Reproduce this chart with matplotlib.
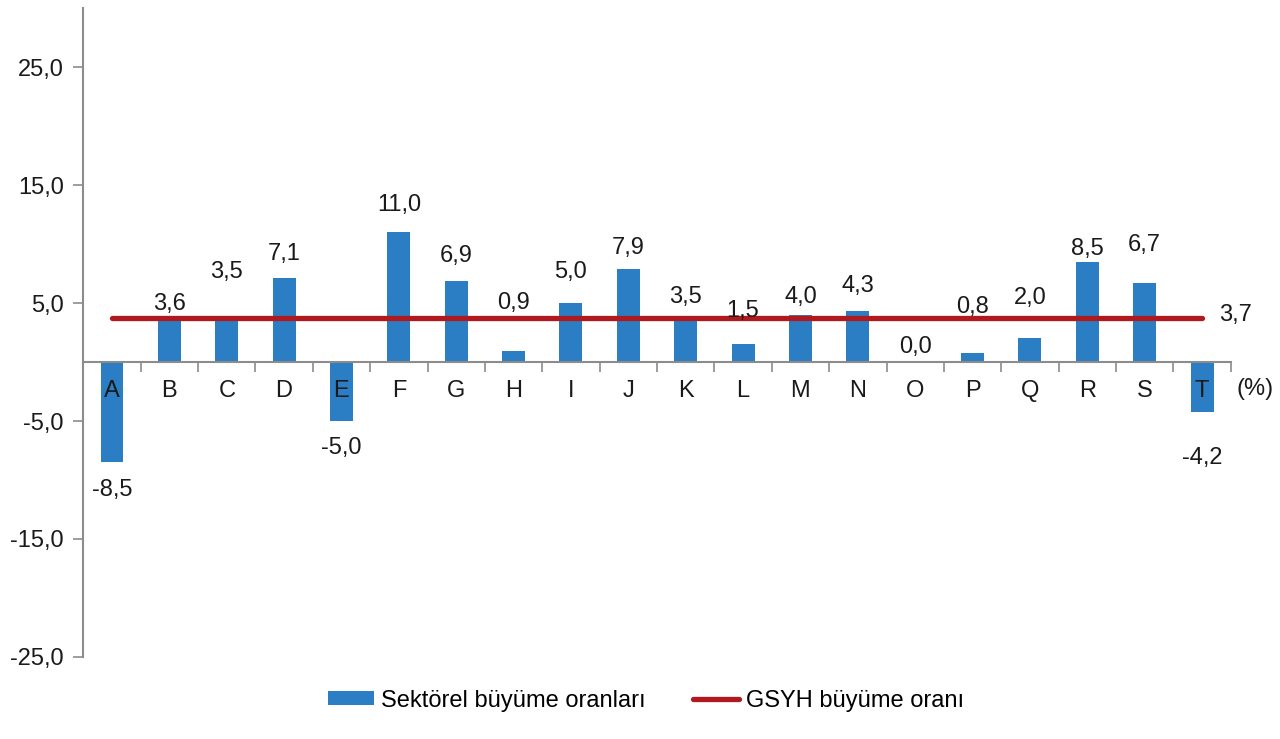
import matplotlib
matplotlib.use("Agg")
import matplotlib.pyplot as plt
from matplotlib.lines import Line2D
from matplotlib.patches import Patch
import numpy as np

# sector codes and their growth rates (%)
sectors = ["A", "B", "C", "D", "E", "F", "G", "H", "I", "J",
           "K", "L", "M", "N", "O", "P", "Q", "R", "S", "T"]
sector_growth = [-8.5, 3.6, 3.5, 7.1, -5.0, 11.0, 6.9, 0.9, 5.0, 7.9,
                 3.5, 1.5, 4.0, 4.3, 0.0, 0.8, 2.0, 8.5, 6.7, -4.2]
gdp_growth = 3.7

y_ticks = [-25, -15, -5, 5, 15, 25]

# distance (pixels) of each value label from the end of its bar
label_pad = [28, 16, 49, 24, 27, 27, 25, 48, 31, 21,
             24, 33, 18, 25, 15, 46, 40, 13, 38, 46]

BLUE = "#2B7EC3"
RED = "#B0191E"
GREY = "#8C8C8C"
TEXT = "#1a1a1a"


def fmt(v):
    return ("%.1f" % v).replace(".", ",")


plt.rcParams["font.family"] = ["Liberation Sans", "DejaVu Sans"]
plt.rcParams["font.size"] = 17

fig = plt.figure(figsize=(12.8, 7.39), dpi=100)
ax = fig.add_axes([0.0651, 0.111, 0.8964, 0.878])

x = np.arange(len(sectors))
ax.bar(x, sector_growth, width=0.40, color=BLUE, zorder=2)
ax.plot(x, np.full(len(x), gdp_growth), color=RED, lw=3.8,
        solid_capstyle="round", zorder=3)

ax.set_xlim(-0.5, len(sectors) - 0.5)
ax.set_ylim(-25, 30)

# axes look
for s in ["top", "right"]:
    ax.spines[s].set_visible(False)
ax.spines["bottom"].set_position(("data", 0))
ax.spines["bottom"].set_color(GREY)
ax.spines["left"].set_color(GREY)
ax.spines["bottom"].set_linewidth(1.5)
ax.spines["left"].set_linewidth(1.5)

ax.set_yticks(y_ticks)
ax.set_yticklabels([fmt(v) for v in y_ticks], color=TEXT)
ax.tick_params(axis="y", length=7, width=1.2, color=GREY, pad=7)

ax.set_xticks(np.arange(len(sectors) + 1) - 0.5)
ax.set_xticklabels([])
ax.tick_params(axis="x", length=7, width=1.2, color=GREY, direction="out")

# category letters under the zero line
for i, s in enumerate(sectors):
    ax.annotate(s, (i, 0), xytext=(0, -29), textcoords="offset pixels",
                ha="center", va="center", color=TEXT, zorder=4)
ax.annotate("(%)", (len(sectors) - 0.5, 0), xytext=(6, -27),
            textcoords="offset pixels", ha="left", va="center", color=TEXT)

# value labels
for i, v in enumerate(sector_growth):
    off = label_pad[i] if v >= 0 else -label_pad[i]
    ax.annotate(fmt(v), (i, v), xytext=(0, off), textcoords="offset pixels",
                ha="center", va="center", color=TEXT, zorder=4)

ax.annotate(fmt(gdp_growth), (len(sectors) - 1, gdp_growth), xytext=(33, 3),
            textcoords="offset pixels", ha="center", va="center", color=TEXT)

handles = [Patch(facecolor=BLUE, edgecolor="none"),
           Line2D([0], [0], color=RED, lw=3.8, solid_capstyle="round")]
fig.legend(handles, ["Sektörel büyüme oranları", "GSYH büyüme oranı"],
           loc="center", bbox_to_anchor=(0.505, 0.052), ncol=2, frameon=False,
           handlelength=1.95, handletextpad=0.3, columnspacing=2.0,
           handleheight=0.55)

fig.savefig("out.png", dpi=100)
